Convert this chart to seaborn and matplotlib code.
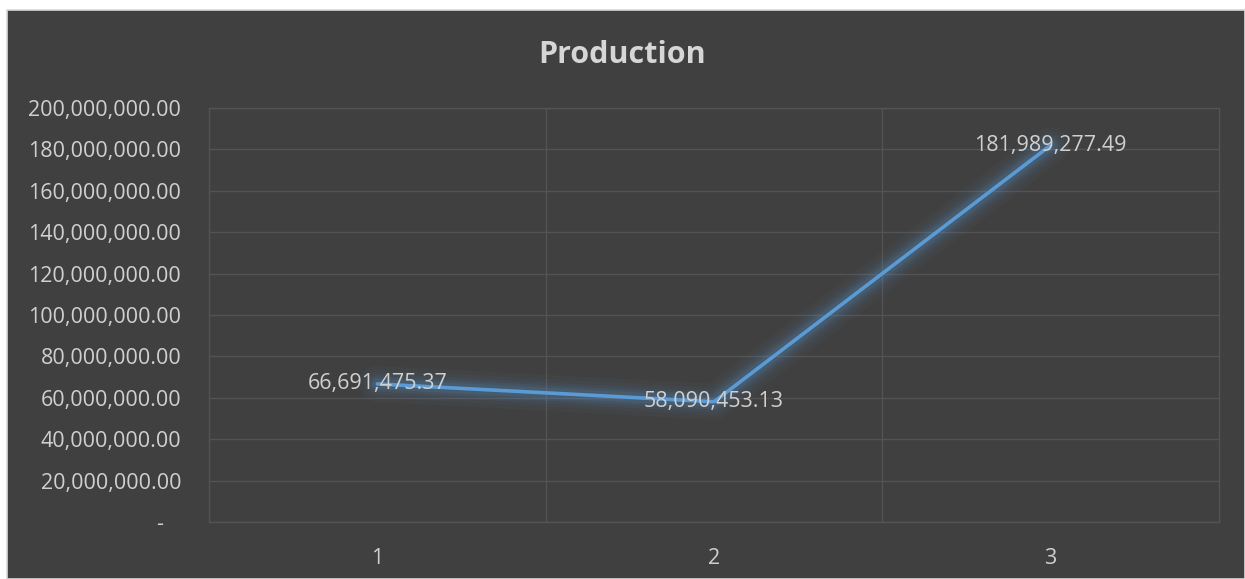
import pandas as pd
import numpy as np
import matplotlib.pyplot as plt
import matplotlib.ticker as mticker
from matplotlib.patches import Rectangle
import seaborn as sns

sns.set_style("dark")
plt.rcParams['font.family'] = ['Open Sans', 'DejaVu Sans']

# data
periods = [1, 2, 3]
production = [66691475.37, 58090453.13, 181989277.49]
yticks = list(range(0, 200000001, 20000000))

df = pd.DataFrame({'Period': periods, 'Production': production})

bg = '#404040'
grid = '#535353'
txt = '#d0d0d0'
blue = '#5b9bd5'

fig = plt.figure(figsize=(12.45, 5.79), dpi=100)
fig.patch.set_facecolor('white')
# dark chart area with a thin light border, leaving a white margin top/left
fig.add_artist(Rectangle((7 / 1245, 0), 1 - 7 / 1245, 1 - 10 / 579,
                         transform=fig.transFigure, facecolor=bg,
                         edgecolor='#d9d9d9', linewidth=1.2, zorder=-10))

ax = fig.add_axes([209 / 1245, 1 - 522 / 579, 1010 / 1245, 414 / 579])
ax.set_facecolor(bg)

# soft glow under the line
for lw, a in [(26, 0.04), (20, 0.05), (15, 0.07), (11, 0.09), (7.5, 0.12)]:
    sns.lineplot(data=df, x='Period', y='Production', ax=ax, color=blue,
                 linewidth=lw, alpha=a, solid_capstyle='round')
sns.lineplot(data=df, x='Period', y='Production', ax=ax, color=blue,
             linewidth=2.6, solid_capstyle='round')

for x, y in zip(periods, production):
    ax.text(x, y, f"{y:,.2f}", ha='center', va='center', color=txt, fontsize=15.5)

ax.set_xlim(0.5, 3.5)
ax.set_ylim(0, 200000000)
ax.set_xticks(periods)
ax.set_xticklabels([str(p) for p in periods])
ax.set_yticks(yticks)
ax.set_yticklabels([f"{v:,.2f}" if v else "-   " for v in yticks])
ax.xaxis.set_minor_locator(mticker.FixedLocator([1.5, 2.5]))
ax.grid(True, which='major', axis='y', color=grid, linewidth=1)
ax.grid(True, which='minor', axis='x', color=grid, linewidth=1)
ax.grid(False, which='major', axis='x')
ax.tick_params(axis='both', which='both', length=0, colors=txt, labelsize=15.5)
ax.tick_params(axis='y', pad=20)
ax.tick_params(axis='x', pad=19)
for s in ax.spines.values():
    s.set_color(grid)
    s.set_linewidth(1)
ax.set_xlabel('')
ax.set_ylabel('')

fig.text(0.5, 1 - 55 / 579, 'Production', ha='center', va='center',
         color='#d6d6d6', fontsize=22, fontweight='bold')

plt.savefig('out.png', dpi=100, facecolor=fig.get_facecolor())
